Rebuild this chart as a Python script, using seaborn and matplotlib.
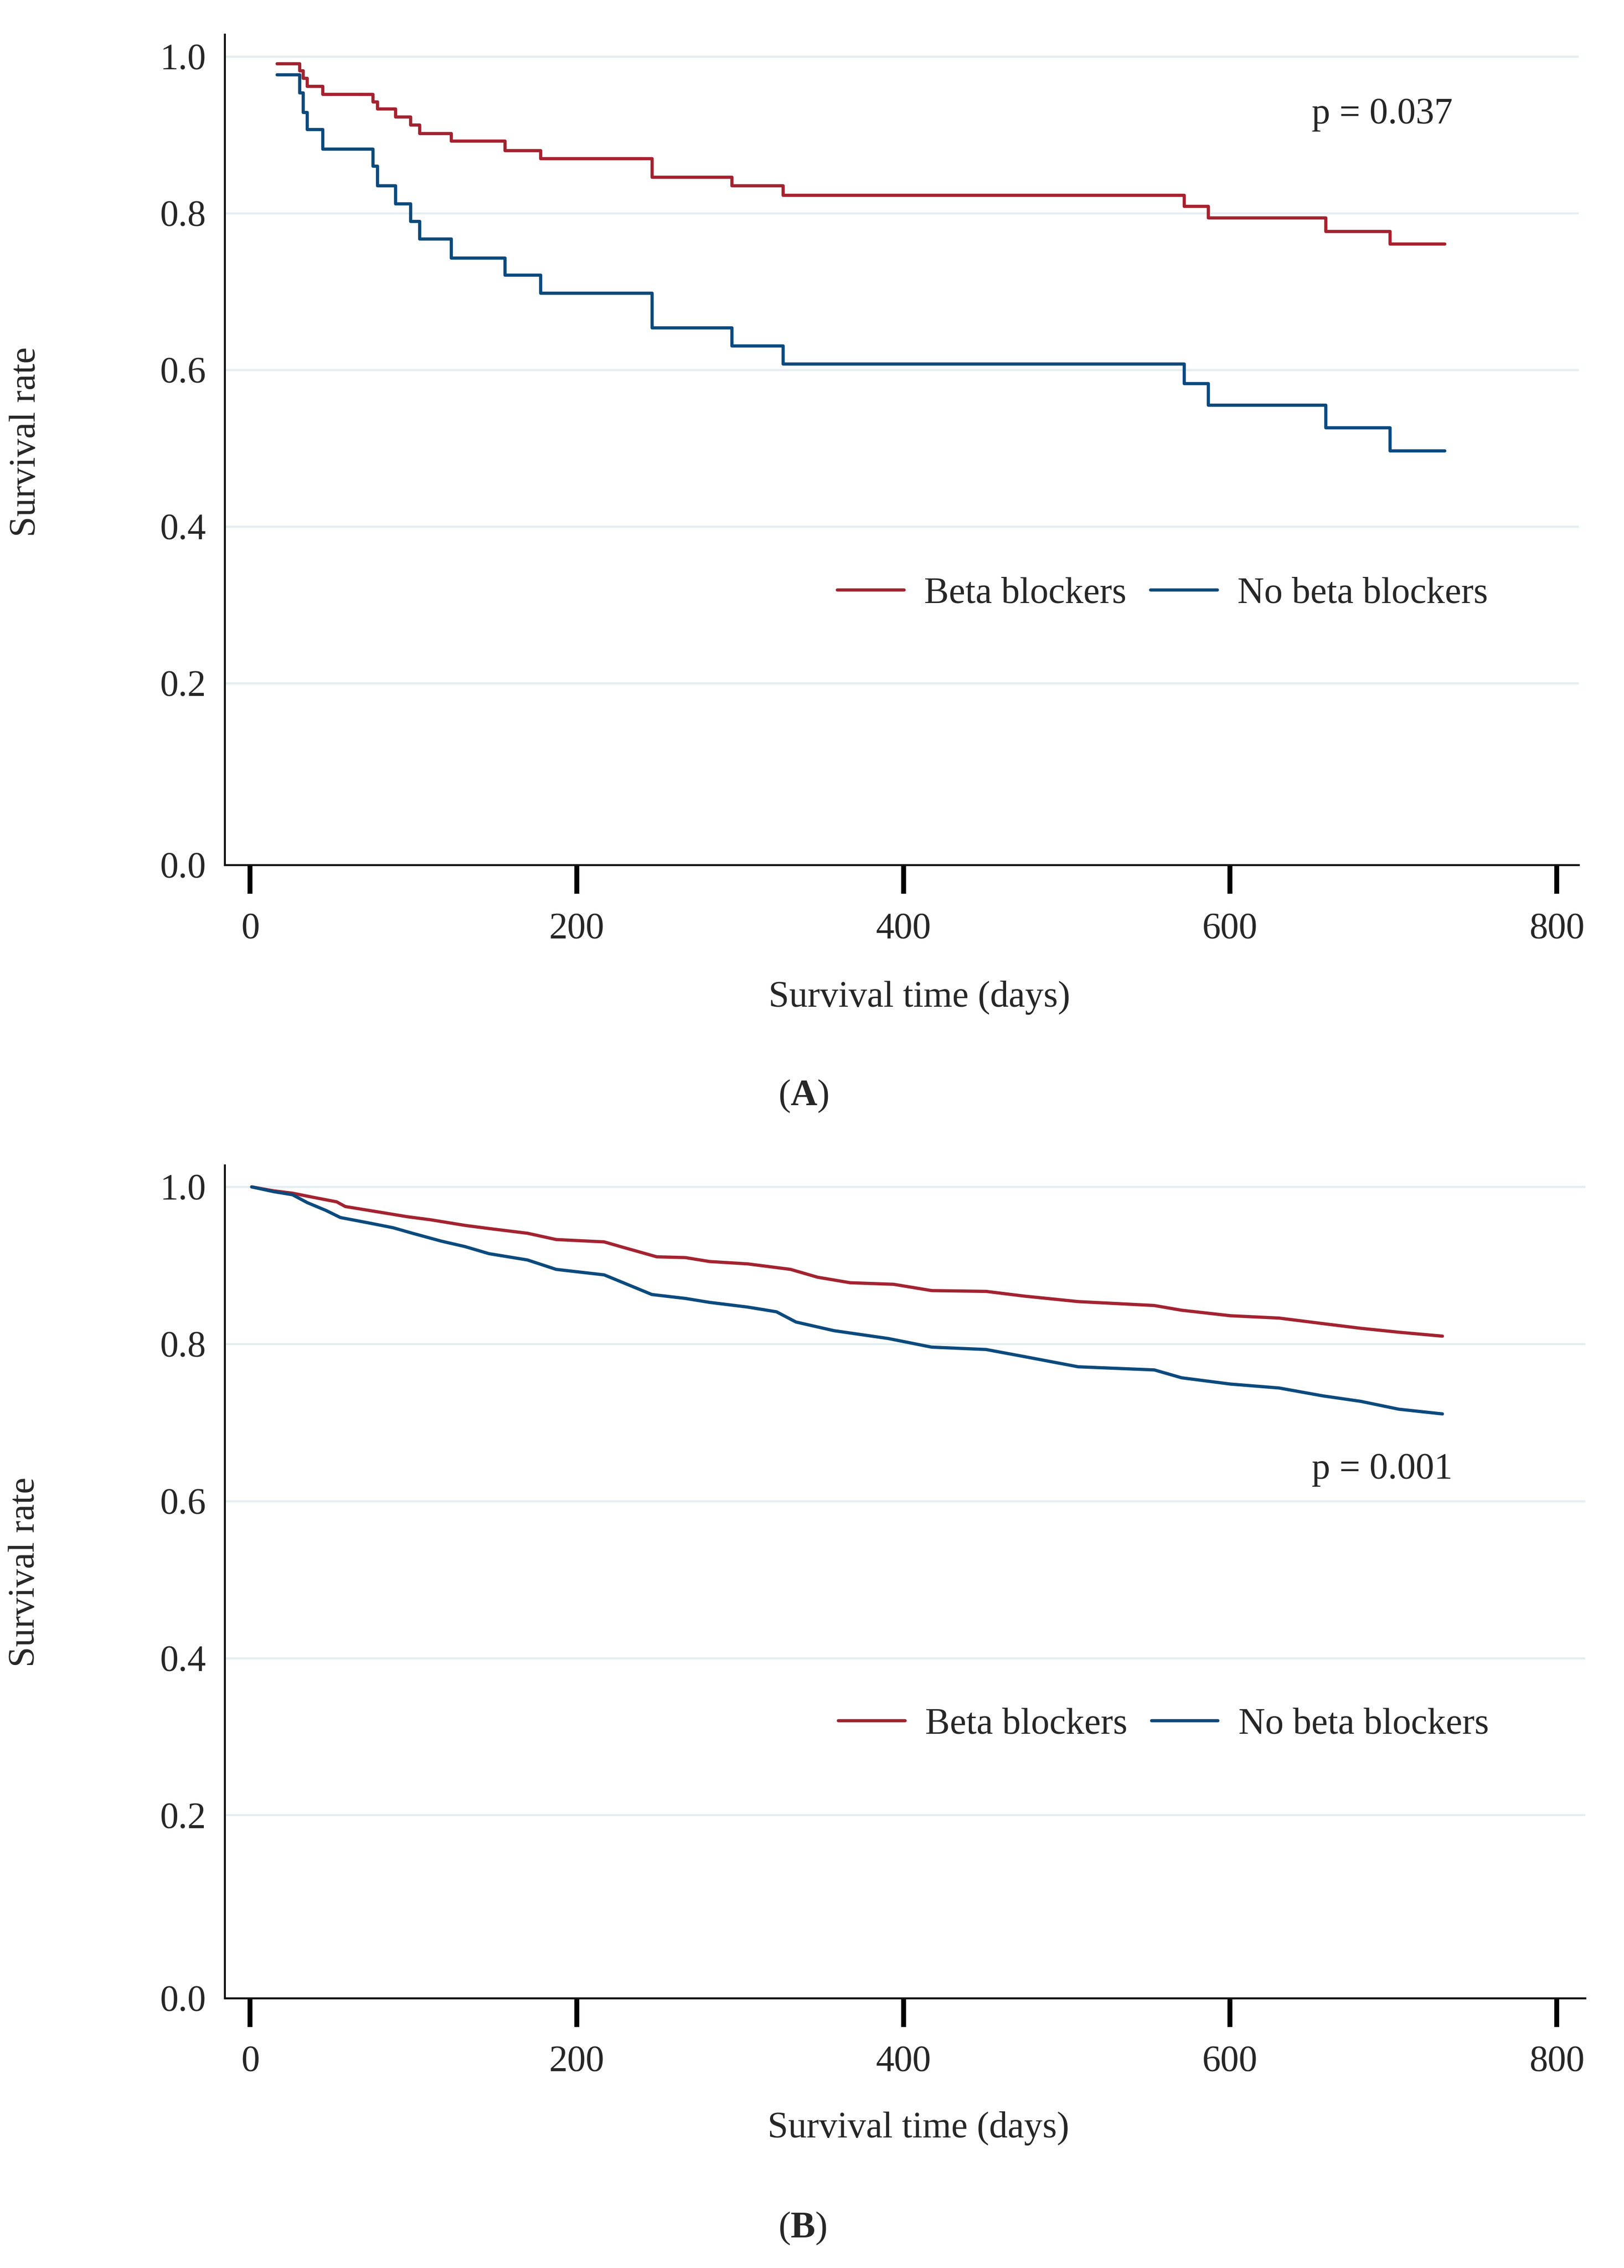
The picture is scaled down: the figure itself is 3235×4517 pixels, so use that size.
import pandas as pd
import seaborn as sns
import matplotlib.pyplot as plt

# Panel A - Kaplan-Meier steps (days, survival)
time_a = [16.5, 30.3, 32.6, 35.0, 44.6, 75.2, 78.0, 89.0, 98.4, 103.7, 123.3,
          156.0, 178.0, 246.0, 295.0, 326.5, 572.0, 586.6, 658.7, 698.0, 731.5]
beta_a = [0.991, 0.982, 0.972, 0.962, 0.952, 0.942, 0.933, 0.923, 0.913, 0.902, 0.892,
          0.880, 0.870, 0.846, 0.835, 0.823, 0.809, 0.794, 0.777, 0.761, 0.761]
nobeta_a = [0.977, 0.954, 0.929, 0.907, 0.882, 0.860, 0.835, 0.812, 0.790, 0.767, 0.743,
            0.721, 0.698, 0.654, 0.631, 0.608, 0.583, 0.555, 0.526, 0.497, 0.497]

# Panel B
time_b_beta = [1.0, 14.3, 26.0, 38.0, 53.0, 58.3, 81.8, 96.4, 111.0, 131.6, 146.3, 169.8,
               187.4, 216.8, 228.5, 249.0, 266.6, 281.3, 304.7, 330.9, 347.5, 367.4, 394.0,
               417.3, 450.6, 473.9, 507.0, 553.6, 570.3, 600.2, 630.0, 656.7, 680.0, 703.3, 730.0]
beta_b = [1.000, 0.995, 0.992, 0.987, 0.981, 0.975, 0.967, 0.962, 0.958, 0.951, 0.947, 0.941,
          0.933, 0.930, 0.923, 0.911, 0.910, 0.905, 0.902, 0.895, 0.885, 0.878, 0.876,
          0.868, 0.867, 0.861, 0.854, 0.849, 0.843, 0.836, 0.833, 0.826, 0.820, 0.815, 0.810]
time_b_nobeta = [1.0, 14.3, 26.0, 35.0, 46.5, 55.3, 73.0, 87.6, 99.4, 117.0, 131.6, 146.3,
                 169.8, 187.4, 216.8, 228.5, 246.0, 266.6, 281.3, 304.7, 322.3, 334.2, 357.4,
                 390.7, 417.3, 450.6, 473.9, 507.0, 553.6, 570.3, 600.2, 630.0, 656.7, 680.0,
                 703.3, 730.0]
nobeta_b = [1.000, 0.994, 0.990, 0.980, 0.970, 0.961, 0.954, 0.948, 0.941, 0.931, 0.924, 0.915,
            0.907, 0.895, 0.888, 0.878, 0.863, 0.858, 0.853, 0.847, 0.841, 0.828, 0.817,
            0.807, 0.796, 0.793, 0.784, 0.771, 0.767, 0.757, 0.749, 0.744, 0.734, 0.727,
            0.717, 0.711]

groups = ["Beta blockers", "No beta blockers"]
colors = {"Beta blockers": "#a32330", "No beta blockers": "#0b4a7d"}
y_ticks = [0.2, 0.4, 0.6, 0.8, 1.0]
x_ticks = [0, 200, 400, 600, 800]

sns.set_theme(style="white")
plt.rcParams["font.family"] = ["Liberation Serif", "DejaVu Serif"]
plt.rcParams["mathtext.fontset"] = "custom"
plt.rcParams["mathtext.rm"] = "Liberation Serif"
plt.rcParams["mathtext.bf"] = "Liberation Serif:bold"

FS = 53


def make_df(t1, s1, t2, s2):
    d1 = pd.DataFrame({"time": t1, "surv": s1, "group": groups[0]})
    d2 = pd.DataFrame({"time": t2, "surv": s2, "group": groups[1]})
    return pd.concat([d1, d2], ignore_index=True)


def draw_panel(ax, df, ybottom, ytop, xright, ptext, ppos, leg_pos, xlab_pos, ylab_pos,
               drawstyle):
    sns.lineplot(data=df, x="time", y="surv", hue="group", hue_order=groups,
                 palette=colors, estimator=None, sort=False, legend=False,
                 drawstyle=drawstyle, linewidth=4.6, ax=ax)
    ax.set_xlim(-15.4, xright)
    ax.set_ylim(ybottom, ytop)
    # the 0.0 label sits on the bottom axis line in the original figure
    ax.set_yticks([ybottom] + y_ticks)
    ax.set_yticklabels(["0.0"] + [f"{v:.1f}" for v in y_ticks])
    ax.set_xticks(x_ticks)
    ax.set_xticklabels([str(v) for v in x_ticks])
    ax.yaxis.grid(True, color="#e4eef1", linewidth=3.0)
    ax.xaxis.grid(False)
    ax.set_axisbelow(True)
    for side in ["top", "right"]:
        ax.spines[side].set_visible(False)
    for side in ["left", "bottom"]:
        ax.spines[side].set_color("#111111")
        ax.spines[side].set_linewidth(2.8)
    ax.tick_params(axis="x", bottom=True, direction="out", length=41, width=7,
                   color="black", pad=27, labelsize=FS)
    ax.tick_params(axis="y", left=False, length=0, pad=27, labelsize=FS)
    ax.set_xlabel("Survival time (days)", fontsize=FS)
    ax.xaxis.set_label_coords(*xlab_pos)
    ax.xaxis.label.set_va("center")
    ax.set_ylabel("Survival rate", fontsize=FS)
    ax.yaxis.set_label_coords(*ylab_pos)
    ax.yaxis.label.set_va("center")
    ax.text(ppos[0], ppos[1], ptext, fontsize=FS, ha="center", va="center")
    ax.legend(handles=ax.lines[:2], labels=groups, loc="center left",
              bbox_to_anchor=leg_pos, ncol=2, frameon=False, fontsize=FS,
              handlelength=1.8, handletextpad=0.55, columnspacing=0.65,
              borderpad=0, borderaxespad=0)


fig = plt.figure(figsize=(32.35, 45.17), dpi=100)
ax_a = fig.add_axes([0.1385, 0.6185, 0.8337, 0.3662])
ax_b = fig.add_axes([0.1385, 0.1189, 0.8377, 0.3673])

df_a = make_df(time_a, beta_a, time_a, nobeta_a)
df_b = make_df(time_b_beta, beta_b, time_b_nobeta, nobeta_b)

draw_panel(ax_a, df_a, -0.032, 1.028, 813.5, "p = 0.037", (693, 0.926),
           (0.4525, 0.3265), (0.513, -0.1596), (-0.1468, 0.5097), "steps-post")
draw_panel(ax_b, df_b, -0.033, 1.0275, 817.5, "p = 0.001", (693, 0.640),
           (0.451, 0.3285), (0.5096, -0.156), (-0.1468, 0.512), "default")

fig.text(0.4949, 0.5167, r"($\mathbf{A}$)", fontsize=FS, ha="center", va="center")
fig.text(0.494, 0.0175, r"($\mathbf{B}$)", fontsize=FS, ha="center", va="center")

fig.savefig("out.png", dpi=100, facecolor="white")
